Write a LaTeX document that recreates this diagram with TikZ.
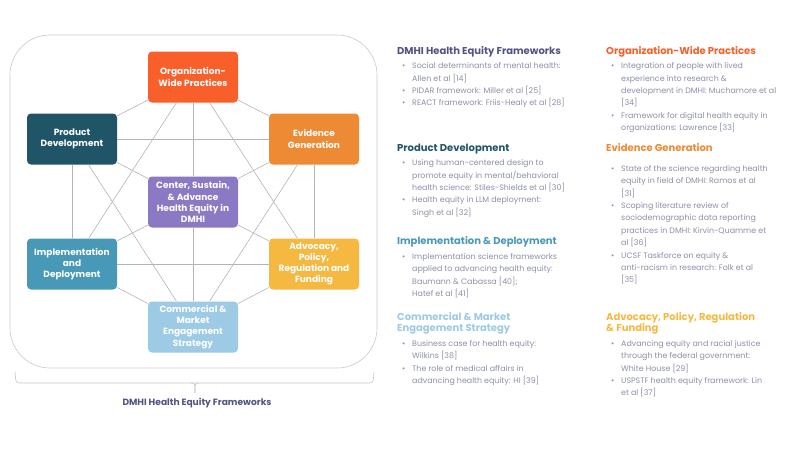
\documentclass[tikz,border=0pt]{standalone}
\usepackage{fontspec}
\setmainfont{Poppins}
\usepackage{xcolor}
\usetikzlibrary{positioning}
\definecolor{orgcol}{HTML}{F95F2A}
\definecolor{evicol}{HTML}{EE8A33}
\definecolor{advcol}{HTML}{F5B941}
\definecolor{comcol}{HTML}{9DCAE4}
\definecolor{impcol}{HTML}{4899B8}
\definecolor{prodcol}{HTML}{1F5567}
\definecolor{midcol}{HTML}{8B79C3}
\definecolor{dmhicol}{HTML}{4F5482}
\definecolor{bodycol}{HTML}{8C8FA5}
\definecolor{linecol}{HTML}{B4B4B8}
\definecolor{framecol}{HTML}{C9C9CC}
\def \bul {\hspace*{5pt}\makebox[10pt][l]{\textbullet}}
\def \nxt {\hspace*{15pt}}
\def \hd #1#2{{\color{#1}\fontsize{10}{12}\selectfont\bfseries #2}}

\begin{document}
\begin{tikzpicture}[x=1pt,y=-1pt,on grid,node distance=121pt]
\tikzstyle{box}=[rectangle,rounded corners=4pt,minimum width=90pt,minimum height=51pt,align=center,text=white,inner sep=1pt,font=\fontsize{9}{11.2}\selectfont\bfseries];
\tikzstyle{link}=[draw=linecol,line width=0.6pt];
\tikzstyle{txt}=[anchor=north west,align=left,inner sep=0pt,text=bodycol,font=\fontsize{7.9}{12.4}\selectfont];
\useasboundingbox (0,0) rectangle (800,450);
\draw [framecol,line width=0.6pt,rounded corners=40pt] (10,35) rectangle (377,368);
% hexagon of practices
\node (0) [box,fill=midcol] at (193,202) {Center, Sustain,\\\& Advance\\Health Equity in\\DMHI};
\node (1) [box,fill=orgcol,above=125pt of 0] {Organization-\\Wide Practices};
\node (2) [box,fill=evicol,above right=63pt and 121pt of 0] {Evidence\\Generation};
\node (3) [box,fill=advcol,below right=62pt and 121pt of 0] {Advocacy,\\Policy,\\Regulation and\\Funding};
\node (4) [box,fill=comcol,below=125pt of 0] {Commercial \&\\Market\\Engagement\\Strategy};
\node (5) [box,fill=impcol,below left=62pt and 121pt of 0] {Implementation\\and\\Deployment};
\node (6) [box,fill=prodcol,above left=63pt and 121pt of 0] {Product\\Development};
\foreach \a/\b in {1/2,2/3,3/4,4/5,5/6,6/1,1/3,2/4,3/5,4/6,5/1,6/2,0/1,0/2,0/3,0/4,0/5,0/6}
  \draw [link] (\a) -- (\b);
% brace and caption
\draw [framecol!80!black!60,line width=0.6pt,rounded corners=3pt] (15,372) -- (16,383) -- (373,383) -- (374,372);
\draw [framecol!80!black!60,line width=0.6pt] (191,383) .. controls (195,383) .. (195,393);
\draw [framecol!80!black!60,line width=0.6pt] (199,383) .. controls (195,383) .. (195,393);
\node (cap) [text=dmhicol,font=\fontsize{9.1}{11}\selectfont\bfseries] at (197,403) {DMHI Health Equity Frameworks};
% references, left column
\node (r1) [txt] at (397,46) {\hd{dmhicol}{DMHI Health Equity Frameworks}\\[2pt]
\bul Social determinants of mental health:\\
\nxt Allen et al [14]\\
\bul PIDAR framework: Miller et al [25]\\
\bul REACT framework: Friis-Healy et al [28]};
\node (r2) [txt] at (397,143.7) {\hd{prodcol}{Product Development}\\[2pt]
\bul Using human-centered design to\\
\nxt promote equity in mental/behavioral\\
\nxt health science: Stiles-Shields et al [30]\\
\bul Health equity in LLM deployment:\\
\nxt Singh et al [32]};
\node (r3) [txt] at (397,236.7) {\hd{impcol}{Implementation \& Deployment}\\[2pt]
\bul Implementation science frameworks\\
\nxt applied to advancing health equity:\\
\nxt Baumann \& Cabassa [40];\\
\nxt Hatef et al [41]};
\node (r4) [txt] at (397,312) {\hd{comcol}{Commercial \& Market}\\[-0.7pt]
\hd{comcol}{Engagement Strategy}\\[2pt]
\bul Business case for health equity:\\
\nxt Wilkins [38]\\
\bul The role of medical affairs in\\
\nxt advancing health equity: HI [39]};
% references, right column
\node (r5) [txt] at (606,46) {\hd{orgcol}{Organization-Wide Practices}\\[2pt]
\bul Integration of people with lived\\
\nxt experience into research \&\\
\nxt development in DMHI: Muchamore et al\\
\nxt [34]\\
\bul Framework for digital health equity in\\
\nxt organizations: Lawrence [33]};
\node (r6) [txt] at (606,143.7) {\hd{evicol}{Evidence Generation}\\[7pt]
\bul State of the science regarding health\\
\nxt equity in field of DMHI: Ramos et al\\
\nxt [31]\\
\bul Scoping literature review of\\
\nxt sociodemographic data reporting\\
\nxt practices in DMHI: Kirvin-Quamme et\\
\nxt al [36]\\
\bul UCSF Taskforce on equity \&\\
\nxt anti-racism in research: Folk et al\\
\nxt [35]};
\node (r7) [txt] at (606,312) {\hd{advcol}{Advocacy, Policy, Regulation}\\[-0.7pt]
\hd{advcol}{\& Funding}\\[2pt]
\bul Advancing equity and racial justice\\
\nxt through the federal government:\\
\nxt White House [29]\\
\bul USPSTF health equity framework: Lin\\
\nxt et al [37]};
\end{tikzpicture}
\end{document}
